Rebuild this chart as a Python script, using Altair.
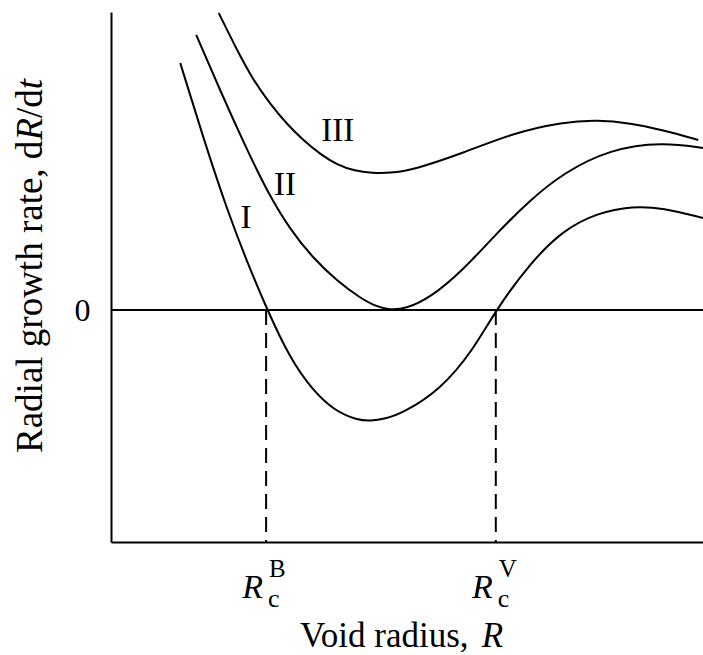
import altair as alt
import pandas as pd

# ---- data (arbitrary units) ----
# Curve I
r_I = [1.17, 1.57, 1.98, 2.30, 2.64, 3.02, 3.40, 3.78, 4.16, 4.38, 4.63, 4.93, 5.56, 6.12, 6.50, 7.08, 7.64, 8.21, 8.82, 9.32, 10.0]
v_I = [2.47, 1.70, 0.97, 0.48, 0.00, -0.48, -0.80, -1.01, -1.10, -1.11, -1.09, -1.03, -0.80, -0.40, 0.00, 0.47, 0.80, 0.97, 1.04, 1.02, 0.92]
# Curve II
r_II = [1.44, 1.84, 2.26, 2.65, 3.02, 3.41, 3.82, 4.21, 4.46, 4.71, 4.97, 5.39, 5.95, 6.52, 7.08, 7.64, 8.43, 9.32, 10.0]
v_II = [2.75, 2.20, 1.65, 1.17, 0.81, 0.52, 0.29, 0.12, 0.04, 0.00, 0.01, 0.12, 0.40, 0.77, 1.10, 1.37, 1.61, 1.68, 1.62]
# Curve III
r_III = [1.82, 2.11, 2.40, 2.69, 2.97, 3.26, 3.53, 3.82, 4.12, 4.41, 4.71, 5.10, 5.95, 6.79, 7.64, 8.21, 8.77, 9.32, 9.92]
v_III = [2.97, 2.62, 2.30, 2.06, 1.86, 1.69, 1.56, 1.45, 1.39, 1.37, 1.37, 1.40, 1.57, 1.77, 1.88, 1.90, 1.87, 1.80, 1.70]

curve_names = ["I", "II", "III"]
label_r = [2.28, 2.94, 3.83]
label_v = [0.92, 1.25, 1.79]

crit_names = ["B", "V"]
crit_r = [2.62, 6.50]

x_domain = [0, 10]
y_domain = [-2.32, 2.98]

FONT = "Liberation Serif"

rows = []
for name, rs, vs in [("I", r_I, v_I), ("II", r_II, v_II), ("III", r_III, v_III)]:
    for r, v in zip(rs, vs):
        rows.append({"R": r, "rate": v, "curve": name})
curves = pd.DataFrame(rows)
labels = pd.DataFrame({"R": label_r, "rate": label_v, "name": curve_names})
crit = pd.DataFrame({"R": crit_r, "sup": crit_names})

xs = alt.Scale(domain=x_domain, nice=False, zero=False)
ys = alt.Scale(domain=y_domain, nice=False, zero=False)

base_x_axis = alt.Axis(title=None, labels=False, ticks=False, grid=False,
                       domainColor="black", domainWidth=2)
base_y_axis = alt.Axis(title=None, values=[0], format="d", ticks=False, tickSize=0, grid=False,
                       domainColor="black", domainWidth=2, labelFont=FONT,
                       labelFontSize=32, labelColor="black", labelPadding=21,
                       labelBaseline="middle")

lines = alt.Chart(curves).mark_line(interpolate="basis", color="black", strokeWidth=2).encode(
    x=alt.X("R:Q", scale=xs, axis=base_x_axis),
    y=alt.Y("rate:Q", scale=ys, axis=base_y_axis),
    detail="curve:N",
)

zero_line = alt.Chart(alt.Data(values=[{}])).mark_rule(color="black", strokeWidth=2).encode(
    y=alt.datum(0)
)

dashes = alt.Chart(crit).mark_rule(color="black", strokeWidth=2, strokeDash=[15, 8]).encode(
    x=alt.X("R:Q"),
    y=alt.datum(0),
    y2=alt.value(530),
)

curve_labels = alt.Chart(labels).mark_text(font=FONT, fontSize=33, color="black",
                                            align="center", baseline="middle").encode(
    x="R:Q", y="rate:Q", text="name:N"
)

rc_R = alt.Chart(crit).mark_text(font=FONT, fontSize=34, fontStyle="italic", color="black",
                                 align="right", baseline="alphabetic", dx=-3).encode(
    x="R:Q", y=alt.value(586), text=alt.value("R")
)
rc_c = alt.Chart(crit).mark_text(font=FONT, fontSize=26, color="black",
                                 align="left", baseline="alphabetic", dx=2).encode(
    x="R:Q", y=alt.value(595), text=alt.value("c")
)
rc_sup = alt.Chart(crit).mark_text(font=FONT, fontSize=25, color="black",
                                   align="left", baseline="alphabetic", dx=3).encode(
    x="R:Q", y=alt.value(565), text="sup:N"
)

one = alt.Data(values=[{}])


def piece(txt, x, y, size, italic=False, angle=0):
    kw = dict(font=FONT, fontSize=size, color="black", align="left", baseline="alphabetic")
    if italic:
        kw["fontStyle"] = "italic"
    if angle:
        kw["angle"] = angle
    return alt.Chart(one).mark_text(**kw).encode(
        x=alt.value(x), y=alt.value(y), text=alt.value(txt)
    )


# x-axis title: "Void radius, R"
XF = 35
x_title = [
    piece("Void radius,", 189, 635, XF),
    piece("R", 189 + 5.194 * XF, 635, XF, italic=True),
]

# y-axis title: "Radial growth rate, dR/dt" (rotated)
YF = 37
yx = -69
y0 = 441
y1 = y0 - 8.443 * YF
y2 = y1 - 0.611 * YF
y3 = y2 - 0.778 * YF
y_title = [
    piece("Radial growth rate, d", yx, y0, YF, angle=270),
    piece("R", yx, y1, YF, italic=True, angle=270),
    piece("/d", yx, y2, YF, angle=270),
    piece("t", yx, y3, YF, italic=True, angle=270),
]

chart = alt.layer(
    lines, zero_line, dashes, curve_labels, rc_R, rc_c, rc_sup, *x_title, *y_title
).properties(
    width=592, height=530,
    padding={"left": 111, "top": 12, "right": 0, "bottom": 113},
    autosize=alt.AutoSizeParams(type="none"),
    background="white",
).configure_view(stroke=None)

chart.save("out.html", embed_options={"renderer": "svg", "actions": False})
